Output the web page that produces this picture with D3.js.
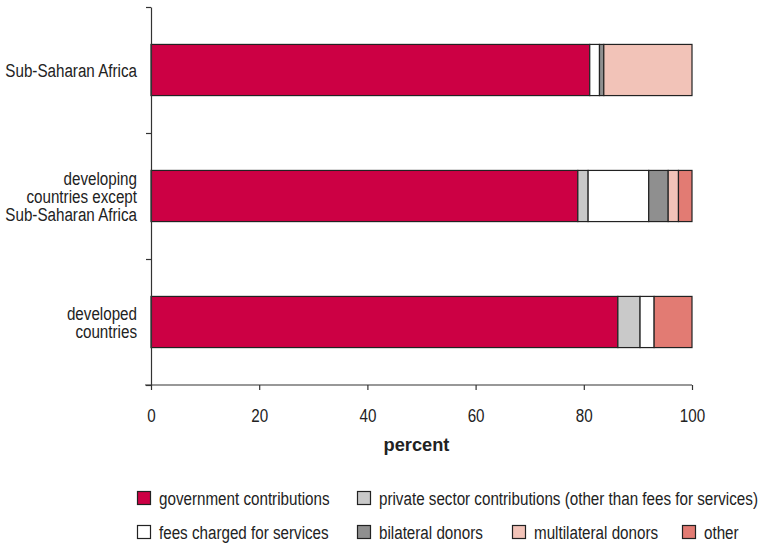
<!DOCTYPE html>
<html>
<head>
<meta charset="utf-8">
<script src="https://cdn.jsdelivr.net/npm/d3@7"></script>
<style>
  body { margin: 0; background: #fff; }
  svg text { font-family: "Liberation Sans", Arial, sans-serif; fill: #222; }
</style>
</head>
<body>
<div id="chart_div"></div>
<script>
// data
const regions = ["Sub-Saharan Africa", "developing countries except Sub-Saharan Africa", "developed countries"];
const regionLines = [["Sub-Saharan Africa"], ["developing", "countries except", "Sub-Saharan Africa"], ["developed", "countries"]];
const sources = ["government", "private", "fees", "bilateral", "multilateral", "other"];
const sourceLabels = ["government contributions", "private sector contributions (other than fees for services)",
    "fees charged for services", "bilateral donors", "multilateral donors", "other"];
const sourceColors = ["#cc0044", "#c9c9c9", "#ffffff", "#8f8f8f", "#f2c3b8", "#e27b73"];
const government = [81.1, 78.9, 86.3];
const privateSector = [0, 1.9, 4.1];
const fees = [1.8, 11.2, 2.6];
const bilateral = [0.8, 3.6, 0];
const multilateral = [16.3, 1.9, 0];
const other = [0, 2.5, 7.0];
const xTicks = [0, 20, 40, 60, 80, 100];

const width = 764, height = 546;
const margin = {top: 7, right: 72, bottom: 161, left: 151};
const plotW = width - margin.left - margin.right;
const plotH = height - margin.top - margin.bottom;
const fontSize = 19;
const squeeze = 0.8; // the reference uses a condensed face

let rows = regions.map(function(r, i){
    return {region: r, government: government[i], private: privateSector[i], fees: fees[i],
        bilateral: bilateral[i], multilateral: multilateral[i], other: other[i]};
});

const stacked = d3.stack().keys(sources)(rows);

const svg = d3.select("#chart_div")
    .append("svg")
    .attr("width", width)
    .attr("height", height);

const g = svg.append("g")
    .attr("transform", "translate(" + margin.left + "," + margin.top + ")");

let xScale = d3.scaleLinear().domain([0, 100]).range([0, plotW]);
let yScale = d3.scaleBand().domain(regions).range([0, plotH]).paddingInner(0.594).paddingOuter(0.297);
let color = d3.scaleOrdinal().domain(sources).range(sourceColors);

// bars
g.selectAll("g.layer")
    .data(stacked)
    .join("g")
    .attr("class", "layer")
    .attr("fill", d => color(d.key))
    .selectAll("rect")
    .data(d => d)
    .join("rect")
    .filter(d => d[1] - d[0] > 0)
    .attr("x", d => xScale(d[0]))
    .attr("y", d => yScale(d.data.region))
    .attr("width", d => xScale(d[1]) - xScale(d[0]))
    .attr("height", yScale.bandwidth())
    .attr("stroke", "#222")
    .attr("stroke-width", 1.2);

// x axis
const xAxis = g.append("g")
    .attr("transform", "translate(0," + plotH + ")")
    .call(d3.axisBottom(xScale).tickValues(xTicks).tickSize(5).tickPadding(18.5).tickSizeOuter(0));
xAxis.select(".domain").attr("stroke", "#333").attr("stroke-width", 1.2).attr("d", "M-6,0H" + plotW);
xAxis.selectAll(".tick line").attr("stroke", "#333").attr("stroke-width", 1.2);
xAxis.selectAll(".tick text")
    .attr("font-size", fontSize)
    .attr("font-family", "Liberation Sans, Arial, sans-serif")
    .attr("transform", "scale(" + squeeze + ",1)")
    .style("fill", "#222");

// y axis: ticks between categories
const yAxisScale = d3.scaleLinear().domain([0, 3]).range([0, plotH]);
const yAxis = g.append("g")
    .call(d3.axisLeft(yAxisScale).tickValues([0, 1, 2, 3]).tickSize(5).tickFormat("").tickSizeOuter(0));
yAxis.select(".domain").attr("stroke", "#333").attr("stroke-width", 1.2);
yAxis.selectAll(".tick line").attr("stroke", "#333").attr("stroke-width", 1.2);

// category labels
const lineH = 18;
g.selectAll("g.cat")
    .data(regions)
    .join("g")
    .attr("class", "cat")
    .attr("transform", function(d, i){
        const n = regionLines[i].length;
        const y0 = yScale(d) + yScale.bandwidth() / 2 - (n - 1) * lineH / 2 + 6.8;
        return "translate(-14," + y0 + ") scale(" + squeeze + ",1)";
    })
    .each(function(d, i){
        d3.select(this).selectAll("text")
            .data(regionLines[i])
            .join("text")
            .attr("text-anchor", "end")
            .attr("font-size", fontSize)
            .attr("y", (t, j) => j * lineH)
            .text(t => t);
    });

// axis title
g.append("text")
    .attr("transform", "translate(" + (plotW / 2 - 5) + "," + (plotH + 66) + ") scale(0.96,1)")
    .attr("text-anchor", "middle")
    .attr("font-size", fontSize)
    .attr("font-weight", "bold")
    .text("percent");

// legend
const legendPos = [[137, 498], [357, 498], [137, 532], [357, 532], [512, 532], [682, 532]];
const legend = svg.append("g");
sources.forEach(function(s, i){
    const item = legend.append("g")
        .attr("transform", "translate(" + legendPos[i][0] + "," + legendPos[i][1] + ")");
    item.append("rect")
        .attr("x", 0.5).attr("y", -6.5)
        .attr("width", 13).attr("height", 13)
        .attr("fill", color(s))
        .attr("stroke", "#222")
        .attr("stroke-width", 1.2);
    item.append("text")
        .attr("transform", "translate(22,6.5) scale(" + squeeze + ",1)")
        .attr("font-size", fontSize)
        .text(sourceLabels[i]);
});
</script>
</body>
</html>
